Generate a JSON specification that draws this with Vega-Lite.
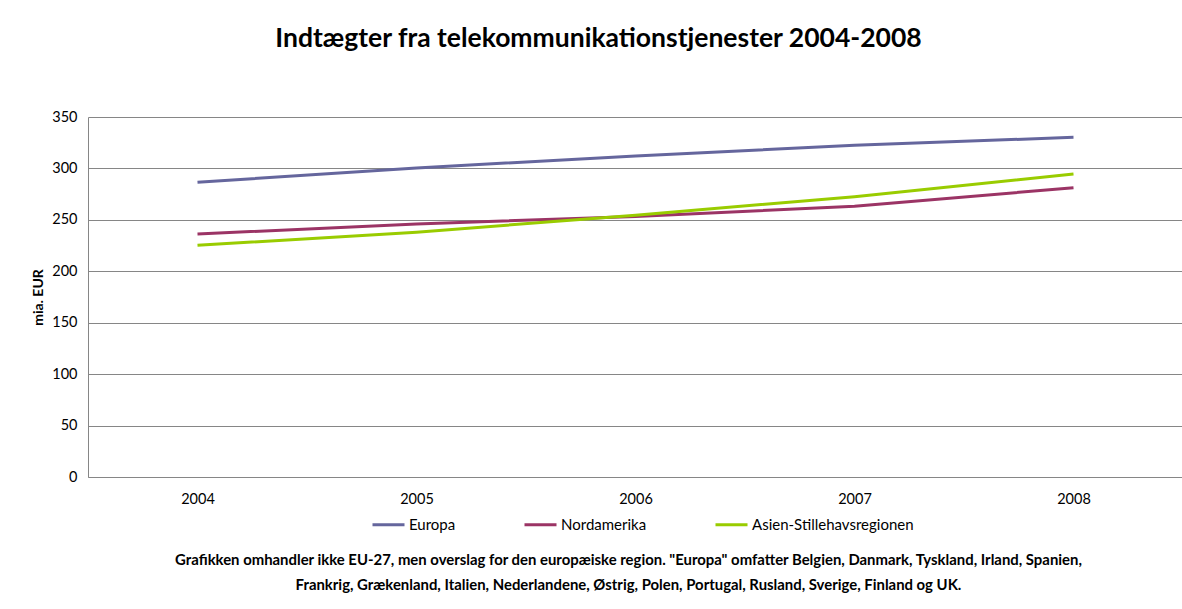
{
  "$schema": "https://vega.github.io/schema/vega-lite/v6.json",
  "autosize": "none",
  "width": 1095,
  "height": 360,
  "padding": {"left": 88, "top": 117, "right": 0, "bottom": 132},
  "background": "white",
  "config": {
    "font": "Lato",
    "view": {"stroke": null},
    "axis": {"labelFont": "Lato", "titleFont": "Lato", "labelColor": "black", "titleColor": "black"}
  },
  "title": {
    "text": "Indtægter fra telekommunikationstjenester 2004-2008",
    "font": "Lato",
    "fontSize": 26.5,
    "fontWeight": "bold",
    "color": "black",
    "anchor": "middle",
    "frame": "group",
    "dx": -37,
    "offset": 57
  },
  "data": {
    "values": [
      {"year": "2004", "region": "Europa", "value": 286.5},
      {"year": "2005", "region": "Europa", "value": 300.5},
      {"year": "2006", "region": "Europa", "value": 312},
      {"year": "2007", "region": "Europa", "value": 322.5},
      {"year": "2008", "region": "Europa", "value": 330.2},
      {"year": "2004", "region": "Nordamerika", "value": 236.2},
      {"year": "2005", "region": "Nordamerika", "value": 246},
      {"year": "2006", "region": "Nordamerika", "value": 253.3},
      {"year": "2007", "region": "Nordamerika", "value": 263.2},
      {"year": "2008", "region": "Nordamerika", "value": 281.3},
      {"year": "2004", "region": "Asien-Stillehavsregionen", "value": 225.2},
      {"year": "2005", "region": "Asien-Stillehavsregionen", "value": 238},
      {"year": "2006", "region": "Asien-Stillehavsregionen", "value": 254.5},
      {"year": "2007", "region": "Asien-Stillehavsregionen", "value": 272.5},
      {"year": "2008", "region": "Asien-Stillehavsregionen", "value": 294.6}
    ]
  },
  "mark": {"type": "line", "strokeWidth": 3},
  "encoding": {
    "x": {
      "field": "year",
      "type": "ordinal",
      "scale": {"type": "point", "padding": 0.5},
      "axis": {
        "labelAngle": 0,
        "labelFontSize": 14.5,
        "labelPadding": 15,
        "ticks": false,
        "domain": true,
        "domainColor": "#868686",
        "grid": false,
        "title": [
          "Grafikken omhandler ikke EU-27, men overslag for den europæiske region. \"Europa\" omfatter Belgien, Danmark, Tyskland, Irland, Spanien,",
          "Frankrig, Grækenland, Italien, Nederlandene, Østrig, Polen, Portugal, Rusland, Sverige, Finland og UK."
        ],
        "titleFontSize": 14.9,
        "titleFontWeight": "bold",
        "titleLineHeight": 25,
        "titleBaseline": "top",
        "titleAlign": "center",
        "titleLimit": 0,
        "titleX": 540,
        "titleY": 75
      }
    },
    "y": {
      "field": "value",
      "type": "quantitative",
      "scale": {"domain": [0, 350], "nice": false},
      "axis": {
        "values": [0, 50, 100, 150, 200, 250, 300, 350],
        "labelFontSize": 14.5,
        "labelPadding": 11,
        "ticks": false,
        "domain": true,
        "domainColor": "#868686",
        "grid": true,
        "gridColor": "#868686",
        "gridOpacity": 1,
        "title": "mia. EUR",
        "titleFontSize": 14,
        "titleFontWeight": "bold",
        "titleAngle": 270,
        "titleAlign": "center",
        "titleBaseline": "middle",
        "titleX": -50,
        "titleY": 180
      }
    },
    "color": {
      "field": "region",
      "type": "nominal",
      "scale": {
        "domain": ["Europa", "Nordamerika", "Asien-Stillehavsregionen"],
        "range": ["#65669D", "#9B3465", "#99CC00"]
      },
      "legend": {
        "title": null,
        "orient": "none",
        "direction": "horizontal",
        "legendX": 283,
        "legendY": 390,
        "padding": 0,
        "symbolType": "stroke",
        "symbolSize": 1024,
        "symbolStrokeWidth": 3,
        "labelFontSize": 15,
        "labelColor": "black",
        "labelOffset": 3,
        "labelLimit": 0,
        "columnPadding": 62
      }
    }
  }
}
